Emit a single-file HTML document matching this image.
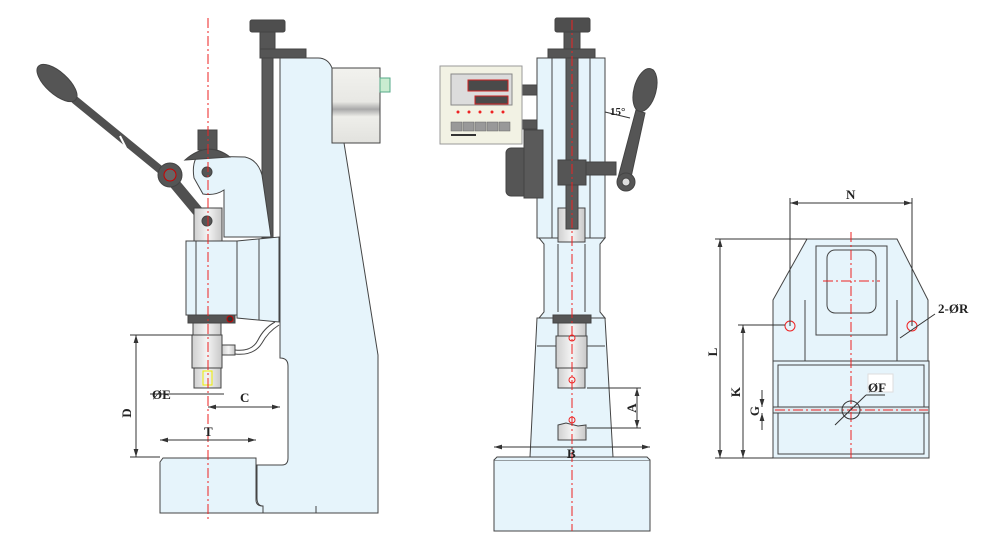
<!DOCTYPE html>
<html><head><meta charset="utf-8"><style>
html,body{margin:0;padding:0;background:#fff;}
svg{display:block;}
text{font-family:"Liberation Serif",serif;font-weight:bold;fill:#222;}
</style></head><body>
<svg width="1000" height="538" viewBox="0 0 1000 538" xmlns="http://www.w3.org/2000/svg">
<defs>
<linearGradient id="gr" x1="0" x2="1"><stop offset="0" stop-color="#cfcfcf"/><stop offset=".5" stop-color="#f4f4f4"/><stop offset="1" stop-color="#c8c8c8"/></linearGradient>
<linearGradient id="cyl" x1="0" y1="0" x2="0" y2="1"><stop offset="0" stop-color="#f2f2ee"/><stop offset=".45" stop-color="#e8e8e4"/><stop offset=".55" stop-color="#a9a9a9"/><stop offset=".65" stop-color="#eeeeea"/><stop offset="1" stop-color="#e2e2de"/></linearGradient>
<marker id="ar" viewBox="0 0 10 6" refX="10" refY="3" markerWidth="8" markerHeight="5" orient="auto-start-reverse"><path d="M0 0 L10 3 L0 6 Z" fill="#333"/></marker>
</defs>
<g stroke="#444" stroke-width="1" fill="#e6f4fb">
<!-- ===== LEFT VIEW ===== -->
<path d="M160 462 L163 458 L256 458 L256 500 Q256 506 263 506 L378 506 L378 513 L160 513 Z"/>
<path d="M280 58 L318 58 Q328 58 332 68 L378 355 L378 513 L263 513 L263 506 Q257 506 257 498 L257 465 L282 465 Q288 465 288 458 L288 366 Q288 358 280 358 Z"/>
<line x1="316" y1="506" x2="316" y2="513"/>
<rect x="332" y="68" width="48" height="75" fill="url(#cyl)"/>
<rect x="380" y="78" width="10" height="14" fill="#c9ecd0" stroke="#5a8"/>
<rect x="262" y="58" width="11" height="180" fill="#5a5a5a"/>
<rect x="250" y="20" width="35" height="12" rx="2" fill="#4e4e4e"/>
<rect x="260" y="32" width="15" height="18" fill="#555"/>
<rect x="260" y="49" width="46" height="9" fill="#555"/>
<path d="M237 241 L279 237 L279 322 L237 318 Z"/>
<rect x="186" y="241" width="51" height="74"/>
<line x1="196" y1="241" x2="196" y2="315"/>
<line x1="259" y1="239" x2="259" y2="320"/>
<path d="M196 158 Q205 156 245 157 Q258 160 262 175 L271 237 L224 237 L224 190 Q215 196 203 194 L194 178 Q192 166 196 158 Z"/>
<rect x="198" y="130" width="19" height="20" fill="#555"/>
<path d="M185 160 Q208 140 230 157 Z" fill="#555"/>
<!-- handle -->
<line x1="75" y1="100" x2="168" y2="176" stroke="#505050" stroke-width="8" stroke-linecap="round"/>
<ellipse cx="57" cy="83" rx="25" ry="11" transform="rotate(42 57 83)" fill="#555"/>
<line x1="170" y1="178" x2="200" y2="214" stroke="#505050" stroke-width="11"/>
<circle cx="170" cy="175" r="12" fill="#555"/>
<circle cx="170" cy="175" r="6" fill="#666" stroke="#c00"/>
<line x1="120" y1="136" x2="126" y2="148" stroke="#fff" stroke-width="2"/>
<circle cx="207" cy="172" r="5" fill="#555"/>
<rect x="194" y="208" width="28" height="33" fill="url(#gr)"/>
<circle cx="207" cy="221" r="5" fill="#555"/>
<rect x="188" y="315" width="47" height="8" fill="#555"/>
<circle cx="230" cy="319" r="3" fill="#333" stroke="#c00"/>
<rect x="193" y="323" width="28" height="12" fill="url(#gr)"/>
<rect x="192" y="335" width="30" height="33" fill="url(#gr)"/>
<rect x="194" y="368" width="27" height="20" fill="url(#gr)"/>
<rect x="222" y="345" width="13" height="10" fill="url(#gr)"/>
<path d="M235 350 Q252 352 258 340 Q264 328 275 322" fill="none"/>
<path d="M235 354 Q254 356 262 343 Q268 332 279 325" fill="none"/>
<rect x="203" y="371" width="9" height="14" fill="none" stroke="#ee0"/>
<!-- ===== MIDDLE VIEW ===== -->
<rect x="494" y="460" width="156" height="71"/>
<path d="M494 460 L497 457 L647 457 L650 460"/>
<path d="M537 318 L605 318 L613 457 L530 457 Z"/>
<line x1="537" y1="346" x2="605" y2="346"/>
<rect x="537" y="58" width="68" height="180"/>
<line x1="552" y1="58" x2="552" y2="238"/><line x1="590" y1="58" x2="590" y2="238"/>
<path d="M539 238 L605 238 L600 244 L600 312 L605 318 L539 318 L544 312 L544 244 Z"/>
<line x1="558" y1="244" x2="558" y2="312"/><line x1="585" y1="244" x2="585" y2="312"/>
<rect x="558" y="208" width="27" height="34" fill="url(#gr)"/>
<rect x="566" y="57" width="12" height="172" fill="#5a5a5a"/>
<rect x="555" y="18" width="35" height="14" rx="2" fill="#4e4e4e"/>
<rect x="564" y="32" width="16" height="18" fill="#555"/>
<rect x="548" y="49" width="47" height="9" fill="#555"/>
<!-- display -->
<rect x="522" y="85" width="15" height="10" fill="#555"/>
<rect x="522" y="120" width="15" height="9" fill="#555"/>
<rect x="440" y="66" width="82" height="78" fill="#f2f2e4" stroke="#999"/>
<rect x="451" y="74" width="61" height="31" fill="#dcdcdc" stroke="#888"/>
<rect x="468" y="80" width="40" height="11" fill="#4a4a4a" stroke="#c22"/>
<rect x="475" y="96" width="33" height="8" fill="#4a4a4a" stroke="#c22"/>
<g fill="#999" stroke="#666" stroke-width=".5">
<rect x="451" y="122" width="11" height="9"/><rect x="463" y="122" width="11" height="9"/><rect x="475" y="122" width="11" height="9"/><rect x="487" y="122" width="11" height="9"/><rect x="499" y="122" width="11" height="9"/></g>
<g fill="#e22" stroke="none"><circle cx="458" cy="112" r="1.5"/><circle cx="469" cy="112" r="1.5"/><circle cx="480" cy="112" r="1.5"/><circle cx="492" cy="112" r="1.5"/><circle cx="503" cy="112" r="1.5"/></g>
<rect x="451" y="134" width="25" height="2" fill="#333" stroke="none"/>
<rect x="506" y="148" width="22" height="48" rx="5" fill="#555"/>
<rect x="524" y="130" width="19" height="68" fill="#5a5a5a"/>
<rect x="558" y="160" width="28" height="25" fill="#555"/>
<rect x="586" y="162" width="30" height="13" fill="#555"/>
<path d="M618 178 L636 110 L645 113 L630 182 Z" fill="#555"/>
<ellipse cx="645" cy="90" rx="11" ry="22" transform="rotate(15 645 90)" fill="#555"/>
<circle cx="626" cy="182" r="9" fill="#555"/>
<circle cx="626" cy="182" r="4" fill="#ddd"/>
<rect x="553" y="315" width="38" height="8" fill="#555"/>
<rect x="558" y="323" width="28" height="13" fill="url(#gr)"/>
<rect x="556" y="336" width="31" height="32" fill="url(#gr)"/>
<rect x="558" y="368" width="27" height="20" fill="url(#gr)"/>
<path d="M558 425 L566 423 L578 426 L586 425 L586 440 L558 440 Z" fill="url(#gr)"/>
<!-- ===== RIGHT VIEW ===== -->
<path d="M807 239 L897 239 L928 300 L928 361 L773 361 L773 300 Z"/>
<rect x="773" y="361" width="156" height="97"/>
<path d="M778 365 L924 365 L924 454 L778 454 Z" fill="none"/>
<line x1="805" y1="300" x2="805" y2="361"/><line x1="897" y1="300" x2="897" y2="361"/>
<path d="M816 246 L887 246 L887 335 L816 335 Z" fill="none"/>
<rect x="827" y="250" width="49" height="63" rx="8"/>
<rect x="773" y="407" width="156" height="6" fill="#dce8ee"/>
</g>
<g stroke="#e22" stroke-width="1" stroke-dasharray="10 3 2 3" fill="none">
<line x1="208" y1="18" x2="208" y2="520"/>
<line x1="572" y1="20" x2="572" y2="531"/>
<line x1="851" y1="232" x2="851" y2="460"/>
<line x1="823" y1="281" x2="880" y2="281"/>
<line x1="775" y1="410" x2="928" y2="410"/>
</g>
<g stroke="#e22" fill="none">
<circle cx="790" cy="326" r="5"/><circle cx="912" cy="326" r="5"/>
<circle cx="851" cy="410" r="9" stroke="#333"/>
<circle cx="572" cy="338" r="3"/><circle cx="572" cy="380" r="3"/><circle cx="572" cy="420" r="3"/>
</g>
<g stroke="#333" stroke-width="1" fill="none">
<line x1="130" y1="335" x2="193" y2="335"/><line x1="130" y1="457" x2="160" y2="457"/>
<line x1="136" y1="335" x2="136" y2="457" marker-start="url(#ar)" marker-end="url(#ar)"/>
<line x1="150" y1="394" x2="224" y2="394"/>
<line x1="208" y1="407" x2="280" y2="407" marker-start="url(#ar)" marker-end="url(#ar)"/>
<line x1="160" y1="440" x2="256" y2="440" marker-start="url(#ar)" marker-end="url(#ar)"/>
<line x1="587" y1="388" x2="641" y2="388"/><line x1="587" y1="428" x2="641" y2="428"/>
<line x1="637" y1="388" x2="637" y2="428" marker-start="url(#ar)" marker-end="url(#ar)"/>
<line x1="494" y1="447" x2="650" y2="447" marker-start="url(#ar)" marker-end="url(#ar)"/>
<line x1="790" y1="198" x2="790" y2="326"/><line x1="912" y1="198" x2="912" y2="326"/>
<line x1="790" y1="203" x2="912" y2="203" marker-start="url(#ar)" marker-end="url(#ar)"/>
<line x1="715" y1="239" x2="807" y2="239"/><line x1="715" y1="458" x2="773" y2="458"/>
<line x1="720" y1="239" x2="720" y2="458" marker-start="url(#ar)" marker-end="url(#ar)"/>
<line x1="738" y1="325" x2="785" y2="325"/>
<line x1="743" y1="325" x2="743" y2="458" marker-start="url(#ar)" marker-end="url(#ar)"/>
<line x1="762" y1="390" x2="762" y2="407" marker-end="url(#ar)"/>
<line x1="762" y1="430" x2="762" y2="413" marker-end="url(#ar)"/>
<line x1="835" y1="425" x2="866" y2="395"/><line x1="866" y1="395" x2="885" y2="395"/>
<line x1="900" y1="338" x2="935" y2="314"/>
<line x1="605" y1="112" x2="630" y2="118"/>
</g>
<rect x="868" y="374" width="25" height="18" fill="#fff" stroke="#ddd"/>
<g font-size="13">
<text x="131" y="413" transform="rotate(-90 131 413)" text-anchor="middle">D</text>
<text x="152" y="399">ØE</text>
<text x="240" y="402">C</text>
<text x="204" y="436">T</text>
<text x="636" y="408" transform="rotate(-90 636 408)" text-anchor="middle">A</text>
<text x="567" y="458">B</text>
<text x="846" y="199">N</text>
<text x="717" y="352" transform="rotate(-90 717 352)" text-anchor="middle">L</text>
<text x="740" y="392" transform="rotate(-90 740 392)" text-anchor="middle">K</text>
<text x="759" y="411" transform="rotate(-90 759 411)" text-anchor="middle">G</text>
<text x="868" y="392">ØF</text>
<text x="938" y="313">2-ØR</text>
<text x="610" y="115" font-size="11" font-weight="normal">15°</text>
</g>
</svg>
</body></html>
